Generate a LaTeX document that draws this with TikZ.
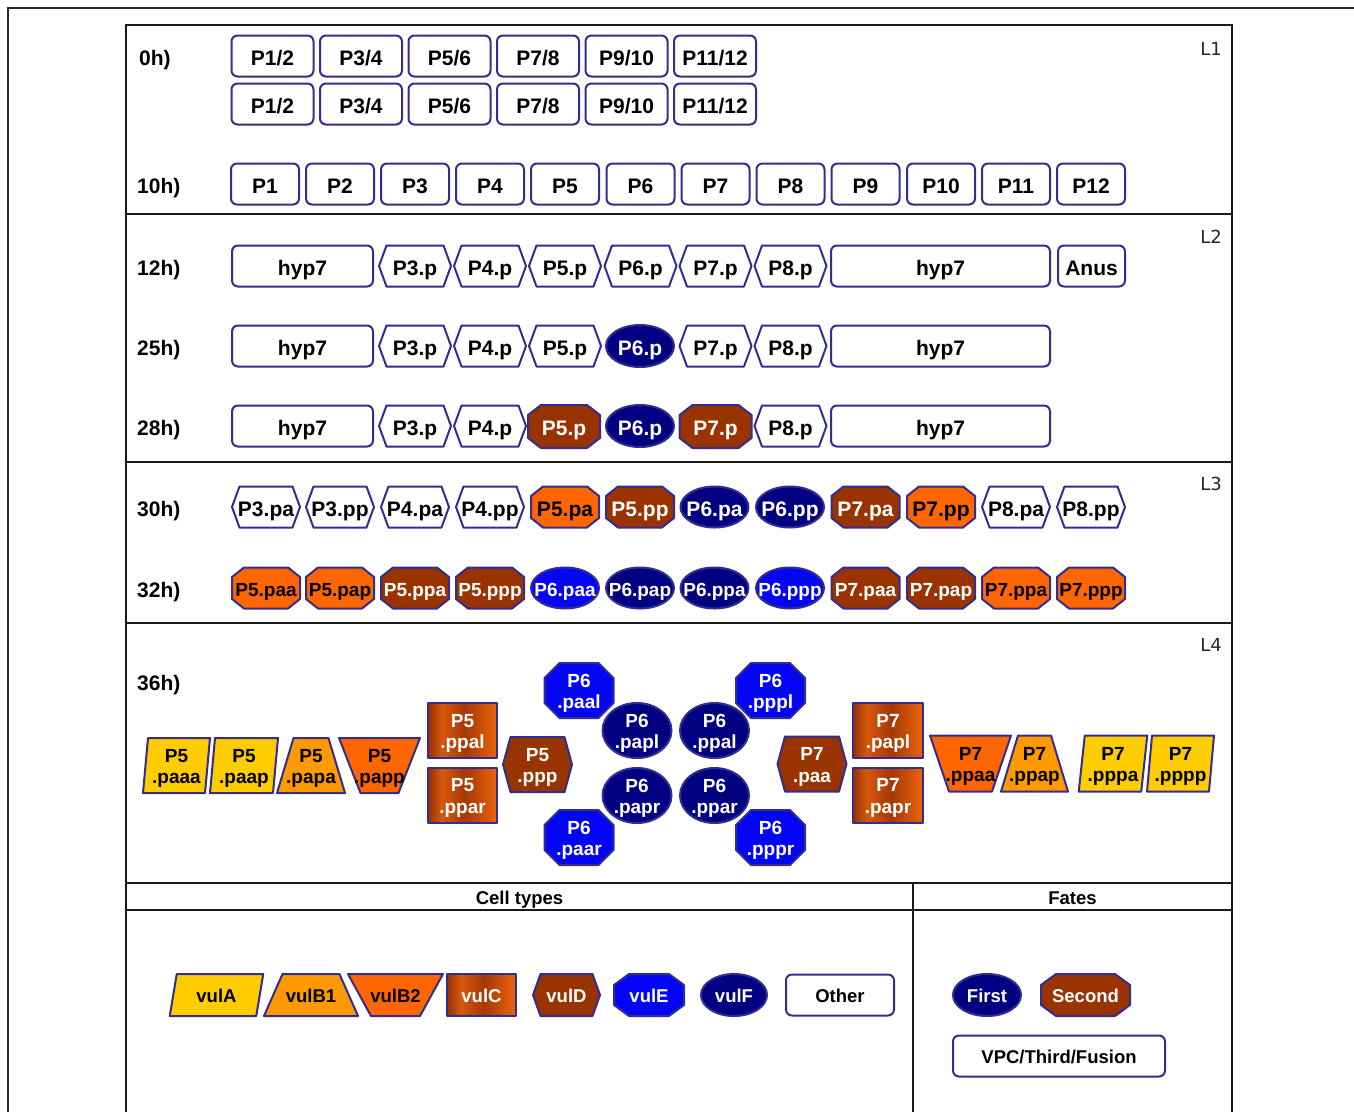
\documentclass[tikz,border=0pt]{standalone}
\usepackage{fontspec}
\setmainfont{Liberation Sans}
\newfontfamily\lfont{DejaVu Sans}
\definecolor{cline}{RGB}{50,45,145}
\definecolor{cnavy}{RGB}{0,0,128}
\definecolor{cblue}{RGB}{5,5,245}
\definecolor{cbrown}{RGB}{153,51,0}
\definecolor{corange}{RGB}{255,102,0}
\definecolor{cyorange}{RGB}{255,153,0}
\definecolor{cyellow}{RGB}{255,204,0}
\definecolor{cgA}{RGB}{150,48,2}
\definecolor{cgB}{RGB}{215,88,12}
\definecolor{cgC}{RGB}{165,56,6}
\definecolor{cgD}{RGB}{238,100,12}
\pgfdeclarehorizontalshading{vulcshade}{100bp}{color(0bp)=(cgA); color(25bp)=(cgA); color(35bp)=(cgB); color(52bp)=(cgC); color(75bp)=(cgD); color(100bp)=(cgD)}
\def\ocx{12}\def\ocy{9}
\newcommand\cHex[8]{%
  \draw[#6 path] ({#2-#4/2},{#3}) -- ({#2-#4/2+7.5},{#3-#5/2}) -- ({#2+#4/2-7.5},{#3-#5/2}) -- ({#2+#4/2},{#3}) -- ({#2+#4/2-7.5},{#3+#5/2}) -- ({#2-#4/2+7.5},{#3+#5/2}) -- cycle;
  \node[#7,#6 text] (#1) at (#2,#3) {#8};}
\newcommand\cOct[8]{%
  \draw[#6 path] ({#2-#4/2},{#3-#5/2+\ocy}) -- ({#2-#4/2+\ocx},{#3-#5/2}) -- ({#2+#4/2-\ocx},{#3-#5/2}) -- ({#2+#4/2},{#3-#5/2+\ocy}) -- ({#2+#4/2},{#3+#5/2-\ocy}) -- ({#2+#4/2-\ocx},{#3+#5/2}) -- ({#2-#4/2+\ocx},{#3+#5/2}) -- ({#2-#4/2},{#3+#5/2-\ocy}) -- cycle;
  \node[#7,#6 text] (#1) at (#2,#3) {#8};}
\newcommand\cEll[8]{%
  \draw[#6 path] (#2,#3) ellipse [x radius={#4*0.5pt}, y radius={#5*0.5pt}];
  \node[#7,#6 text] (#1) at (#2,#3) {#8};}
\newcommand\cPar[9]{%
  \draw[#7 path] ({#2-(#4+#6)/2},{#3+#5/2}) -- ({#2-(#4-#6)/2},{#3-#5/2}) -- ({#2+(#4+#6)/2},{#3-#5/2}) -- ({#2+(#4-#6)/2},{#3+#5/2}) -- cycle;
  \node[#8,#7 text] (#1) at (#2,#3) {#9};}
\newcommand\cTrap[9]{%
  \draw[#7 path] ({#2-#4/2},{#3-#6/2}) -- ({#2+#4/2},{#3-#6/2}) -- ({#2+#5/2},{#3+#6/2}) -- ({#2-#5/2},{#3+#6/2}) -- cycle;
  \node[#8,#7 text] (#1) at (#2,#3) {#9};}
\newcommand\cRect[7]{%
  \shadedraw[cellline, shading=vulcshade] ({#2-#4/2},{#3-#5/2}) rectangle ({#2+#4/2},{#3+#5/2});
  \node[#6,text=white] (#1) at (#2,#3) {#7};}
\begin{document}
\begin{tikzpicture}[x=1pt,y=-1pt,
  cellline/.style={draw=cline, line width=2pt, line join=round},
  white path/.style={cellline, fill=white}, white text/.style={text=black},
  navy path/.style={cellline, fill=cnavy}, navy text/.style={text=white},
  blue path/.style={cellline, fill=cblue}, blue text/.style={text=white},
  brown path/.style={cellline, fill=cbrown}, brown text/.style={text=white},
  orange path/.style={cellline, fill=corange}, orange text/.style={text=black},
  yorange path/.style={cellline, fill=cyorange}, yorange text/.style={text=black},
  yellow path/.style={cellline, fill=cyellow}, yellow text/.style={text=black},
  fa/.style={font=\fontsize{21}{24}\selectfont\bfseries, inner sep=0pt, text height=18.5pt, text depth=0.5pt},
  fb/.style={font=\fontsize{19}{22}\selectfont\bfseries, inner sep=0pt, text height=17pt, text depth=0pt},
  fc/.style={font=\fontsize{19}{21.5}\selectfont\bfseries, inner sep=0pt, align=center, yshift=-3pt},
  fd/.style={font=\fontsize{18.5}{21}\selectfont\bfseries, inner sep=0pt, text height=14.5pt, text depth=0pt},
  rbox/.style={draw=cline, line width=2pt, rounded corners=6pt, fill=white, minimum height=41pt},
  tlabel/.style={anchor=west, font=\fontsize{21}{24}\selectfont\bfseries, inner sep=0pt, text height=18.5pt, text depth=0.5pt},
  llabel/.style={anchor=east, font=\lfont\fontsize{18}{20}\selectfont, inner sep=0pt, text=black!85},
  frame/.style={line width=2.8pt, black!90},
  hdr/.style={font=\fontsize{18.5}{21}\selectfont\bfseries, inner sep=0pt, text height=14.5pt, text depth=0pt}]
\useasboundingbox (0,0) rectangle (1354,1111);
\fill[white] (0,0) rectangle (1354,1111);
% frames
\draw[line width=1.5pt, black!85] (8,1120) -- (8,8) -- (1360,8);
\draw[frame] (126,1120) -- (126,25) -- (1232,25) -- (1232,1120);
\draw[frame] (126,214) -- (1232,214);
\draw[frame] (126,462) -- (1232,462);
\draw[frame] (126,623) -- (1232,623);
\draw[frame] (126,883) -- (1232,883);
\draw[frame] (913,883) -- (913,1120);
\draw[line width=1.5pt, black!90] (126,910) -- (1232,910);
% layer labels
\node[llabel] (L1) at (1222,48.5) {L1};
\node[llabel] (L2) at (1222,236.5) {L2};
\node[llabel] (L3) at (1222,483.5) {L3};
\node[llabel] (L4) at (1222,644.5) {L4};
% time labels
\node[tlabel] (t0) at (139,56) {0h)};
\node[tlabel] (t10) at (137,184) {10h)};
\node[tlabel] (t12) at (137,266) {12h)};
\node[tlabel] (t25) at (137,346) {25h)};
\node[tlabel] (t28) at (137,426) {28h)};
\node[tlabel] (t30) at (137,507) {30h)};
\node[tlabel] (t32) at (137,588) {32h)};
\node[tlabel] (t36) at (137,681) {36h)};
% 0h
\foreach \x/\t/\n in {272.5/P1\slash 2/1, 361/P3\slash 4/2, 449.5/P5\slash 6/3, 538/P7\slash 8/4, 626.5/P9\slash 10/5, 715/P11\slash 12/6}{
  \node[rbox, fa, minimum width=82pt] (a\n) at (\x,56) {\t};
  \node[rbox, fa, minimum width=82pt] (b\n) at (\x,104) {\t};
}
% 10h
\foreach \x/\i in {265/1,340/2,415/3,490/4,565/5,640.5/6,715.5/7,790.5/8,865.5/9,941/10,1016/11,1091/12}{
  \node[rbox, fa, minimum width=68pt] (c\i) at (\x,184) {P\i};
}
% 12h
\node[rbox, fa, minimum width=141pt] (hypA12) at (302.5,266) {hyp7};
\cHex{pA3}{415}{266}{72}{41}{white}{fa}{P3.p}
\cHex{pA4}{490}{266}{72}{41}{white}{fa}{P4.p}
\cHex{pA5}{565}{266}{72}{41}{white}{fa}{P5.p}
\cHex{pA6}{640.5}{266}{72}{41}{white}{fa}{P6.p}
\cHex{pA7}{715.5}{266}{72}{41}{white}{fa}{P7.p}
\cHex{pA8}{790.5}{266}{72}{41}{white}{fa}{P8.p}
\node[rbox, fa, minimum width=219pt] (hypB12) at (940.5,266) {hyp7};
\node[rbox, fa, minimum width=67pt] (anus) at (1091.5,266) {Anus};
% 25h
\node[rbox, fa, minimum width=141pt] (hypA25) at (302.5,346) {hyp7};
\cHex{pB3}{415}{346}{72}{41}{white}{fa}{P3.p}
\cHex{pB4}{490}{346}{72}{41}{white}{fa}{P4.p}
\cHex{pB5}{565}{346}{72}{41}{white}{fa}{P5.p}
\cEll{pB6}{640}{346}{68}{42}{navy}{fa}{P6.p}
\cHex{pB7}{715.5}{346}{72}{41}{white}{fa}{P7.p}
\cHex{pB8}{790.5}{346}{72}{41}{white}{fa}{P8.p}
\node[rbox, fa, minimum width=219pt] (hypB25) at (940.5,346) {hyp7};
% 28h
\def\ocx{13}\def\ocy{10}
\node[rbox, fa, minimum width=141pt] (hypA28) at (302.5,426) {hyp7};
\cHex{pC3}{415}{426}{72}{41}{white}{fa}{P3.p}
\cHex{pC4}{490}{426}{72}{41}{white}{fa}{P4.p}
\cOct{pC5}{564}{426.5}{72}{43}{brown}{fa}{P5.p}
\cEll{pC6}{640}{426}{68}{42}{navy}{fa}{P6.p}
\cOct{pC7}{715.5}{426.5}{72}{43}{brown}{fa}{P7.p}
\cHex{pC8}{790.5}{426}{72}{41}{white}{fa}{P8.p}
\node[rbox, fa, minimum width=219pt] (hypB28) at (940.5,426) {hyp7};
% 30h
\def\ocx{12}\def\ocy{9.5}
\cHex{qA1}{266}{507}{68}{41}{white}{fa}{P3.pa}
\cHex{qA2}{340}{507}{68}{41}{white}{fa}{P3.pp}
\cHex{qA3}{415}{507}{68}{41}{white}{fa}{P4.pa}
\cHex{qA4}{490}{507}{68}{41}{white}{fa}{P4.pp}
\cOct{qA5}{565}{507}{68}{41}{orange}{fa}{P5.pa}
\cOct{qA6}{640}{507}{68}{41}{brown}{fa}{P5.pp}
\cEll{qA7}{714.5}{507}{68}{41}{navy}{fa}{P6.pa}
\cEll{qA8}{790}{507}{68}{41}{navy}{fa}{P6.pp}
\cOct{qA9}{865.5}{507}{68}{41}{brown}{fa}{P7.pa}
\cOct{qA10}{941}{507}{68}{41}{orange}{fa}{P7.pp}
\cHex{qA11}{1016}{507}{68}{41}{white}{fa}{P8.pa}
\cHex{qA12}{1091}{507}{68}{41}{white}{fa}{P8.pp}
% 32h
\cOct{qB1}{266}{588}{68}{41}{orange}{fb}{P5.paa}
\cOct{qB2}{340}{588}{68}{41}{orange}{fb}{P5.pap}
\cOct{qB3}{415}{588}{68}{41}{brown}{fb}{P5.ppa}
\cOct{qB4}{490}{588}{68}{41}{brown}{fb}{P5.ppp}
\cEll{qB5}{565}{588}{68}{41}{blue}{fb}{P6.paa}
\cEll{qB6}{640}{588}{68}{41}{navy}{fb}{P6.pap}
\cEll{qB7}{714.5}{588}{68}{41}{navy}{fb}{P6.ppa}
\cEll{qB8}{790}{588}{68}{41}{blue}{fb}{P6.ppp}
\cOct{qB9}{865.5}{588}{68}{41}{brown}{fb}{P7.paa}
\cOct{qB10}{941}{588}{68}{41}{brown}{fb}{P7.pap}
\cOct{qB11}{1016}{588}{68}{41}{orange}{fb}{P7.ppa}
\cOct{qB12}{1091}{588}{68}{41}{orange}{fb}{P7.ppp}
% 36h
\def\ocx{15}\def\ocy{15}
\cPar{r1}{176.5}{765.5}{62}{55}{5}{yellow}{fc}{P5\\.paaa}
\cPar{r2}{244}{765.5}{63}{55}{5}{yellow}{fc}{P5\\.paap}
\cTrap{r3}{311}{765.5}{35}{68}{55}{yorange}{fc}{P5\\.papa}
\cTrap{r4}{379.5}{765.5}{81}{38}{55}{orange}{fc}{P5\\.papp}
\cRect{r5}{462.5}{730.5}{69}{55}{fc}{P5\\.ppal}
\cRect{r6}{462.5}{795}{69}{55}{fc}{P5\\.ppar}
\cHex{r7}{537.5}{764.5}{69}{55}{brown}{fc}{P5\\.ppp}
\cOct{r8}{579}{690.5}{69}{55}{blue}{fc}{P6\\.paal}
\cEll{r9}{637}{730.5}{69}{55}{navy}{fc}{P6\\.papl}
\cEll{r10}{714.5}{730.5}{69}{55}{navy}{fc}{P6\\.ppal}
\cOct{r11}{770.5}{690.5}{69}{55}{blue}{fc}{P6\\.pppl}
\cEll{r12}{637}{795.5}{69}{55}{navy}{fc}{P6\\.papr}
\cEll{r13}{714.5}{795.5}{69}{55}{navy}{fc}{P6\\.ppar}
\cOct{r14}{579}{837.5}{69}{55}{blue}{fc}{P6\\.paar}
\cOct{r15}{770.5}{837.5}{69}{55}{blue}{fc}{P6\\.pppr}
\cHex{r16}{812}{764}{69}{55}{brown}{fc}{P7\\.paa}
\cRect{r17}{888}{730.5}{70}{55}{fc}{P7\\.papl}
\cRect{r18}{888}{795}{70}{55}{fc}{P7\\.papr}
\cTrap{r19}{970.5}{763.5}{81}{43}{56}{orange}{fc}{P7\\.ppaa}
\cTrap{r20}{1034.5}{763.5}{33}{67}{56}{yorange}{fc}{P7\\.ppap}
\cPar{r21}{1113}{763.5}{62.5}{56}{6}{yellow}{fc}{P7\\.pppa}
\cPar{r22}{1180.5}{763.5}{62}{56}{5}{yellow}{fc}{P7\\.pppp}
% legend
\node[hdr] (hct) at (519.5,897) {Cell types};
\node[hdr] (hfa) at (1072.5,897) {Fates};
\def\ocx{15}\def\ocy{11}
\cPar{vA}{216.5}{995}{86.5}{42}{7}{yellow}{fd}{vulA}
\cTrap{vB1}{311}{995}{57}{94}{42}{yorange}{fd}{vulB1}
\cTrap{vB2}{395.5}{995}{95}{49}{42}{orange}{fd}{vulB2}
\cRect{vC}{481.5}{995}{69}{42}{fd}{vulC}
\cHex{vD}{566.5}{995}{67}{42}{brown}{fd}{vulD}
\cOct{vE}{649}{995}{70}{42}{blue}{fd}{vulE}
\cEll{vF}{734}{995}{66}{42}{navy}{fd}{vulF}
\node[rbox, fd, minimum width=108pt] (other) at (840,995) {Other};
\cEll{first}{987}{995}{68}{42}{navy}{fd}{First}
\cOct{second}{1085.5}{995}{89}{42}{brown}{fd}{Second}
\node[rbox, fd, minimum width=212pt] (vpc) at (1059,1056) {VPC/Third/Fusion};
\end{tikzpicture}
\end{document}
